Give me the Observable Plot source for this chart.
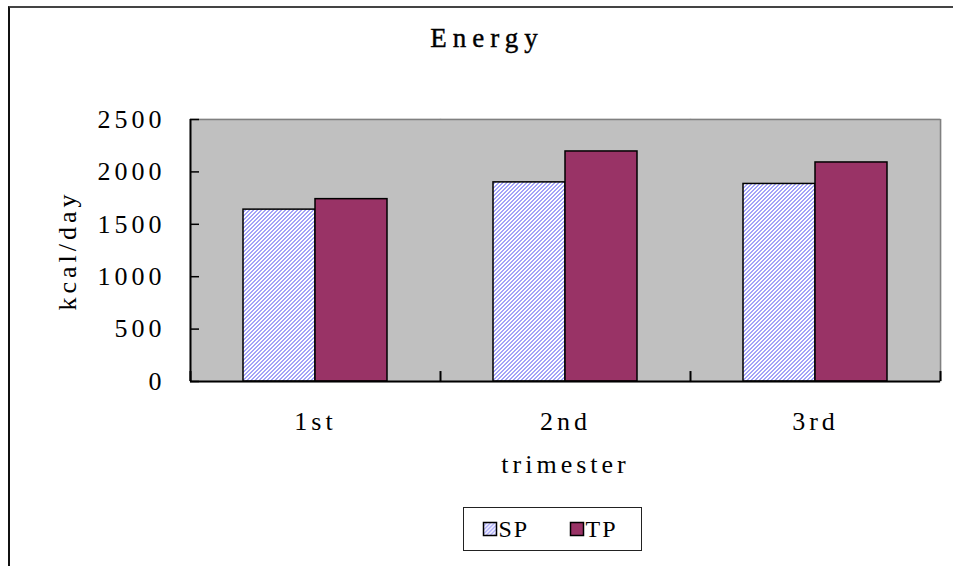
<!DOCTYPE html>
<html><head><meta charset="utf-8">
<script src="https://cdn.jsdelivr.net/npm/d3@7"></script>
<script src="https://cdn.jsdelivr.net/npm/@observablehq/plot@0.6"></script>
<style>
html,body{margin:0;padding:0;background:#fff;}
#wrap{position:relative;width:953px;height:566px;overflow:hidden;}
#wrap > svg{position:absolute;left:0;top:0;}
#border{position:absolute;left:8px;top:6px;width:1000px;height:1000px;border-left:2px solid #111;border-top:2px solid #444;box-sizing:border-box;z-index:5;}
svg.chart text{letter-spacing:4px;font-family:'Liberation Serif';}
#overlay text{font-family:'Liberation Serif';}
</style>
</head><body>
<div id="wrap">
<svg width="0" height="0" style="position:absolute">
  <defs>
    <pattern id="hatch" patternUnits="userSpaceOnUse" width="4" height="4">
      <rect width="4" height="4" fill="#ffffff"/>
      <g fill="#a3a3f8" shape-rendering="crispEdges">
        <rect x="2" y="0" width="2" height="1"/>
        <rect x="1" y="1" width="2" height="1"/>
        <rect x="0" y="2" width="2" height="1"/>
        <rect x="0" y="3" width="1" height="1"/>
        <rect x="3" y="3" width="1" height="1"/>
      </g>
    </pattern>
  </defs>
</svg>
</div>
<script>
const trimesters = ["1st", "2nd", "3rd"];
const series = ["SP", "TP"];
const spValues = [1640, 1900, 1885];
const tpValues = [1740, 2195, 2090];
const yTicks = [0, 500, 1000, 1500, 2000, 2500];
const colors = {SP: "url(#hatch)", TP: "#993366"};
const titleText = "Energy";
const yLabel = "kcal/day";
const xLabel = "trimester";

const data = trimesters.flatMap((t, i) => [
  {trimester: t, series: "SP", value: spValues[i]},
  {trimester: t, series: "TP", value: tpValues[i]}
]);
const firstT = [trimesters[0]];
const lastT = [trimesters[trimesters.length - 1]];

const chart = Plot.plot({
  width: 953,
  height: 566,
  marginLeft: 190,
  marginRight: 13,
  marginTop: 119,
  marginBottom: 185,
  className: "chart",
  style: {fontSize: "26px", background: "transparent", color: "black"},
  fx: {domain: trimesters, padding: 0},
  x: {domain: series, paddingInner: 0, paddingOuter: 0.736, axis: null},
  y: {domain: [0, 2500]},
  marks: [
    Plot.frame({fill: "#c0c0c0", stroke: "#c0c0c0", strokeWidth: 1.5}),
    Plot.ruleY([2500], {stroke: "#808080", strokeWidth: 1.5}),
    Plot.ruleX(lastT, {fx: d => d, x: null, y1: 0, y2: 2500, dx: 125, stroke: "#808080", strokeWidth: 1.5}),
    Plot.barY(data.filter(d => d.series === "SP"), {fx: "trimester", x: "series", y: "value", fill: colors.SP, stroke: "black", strokeWidth: 1.5}),
    Plot.barY(data.filter(d => d.series === "TP"), {fx: "trimester", x: "series", y: "value", fill: colors.TP, stroke: "black", strokeWidth: 1.5}),
    Plot.ruleX(trimesters, {fx: d => d, x: null, y1: 0, y2: 95, dx: -125, stroke: "black", strokeWidth: 2}),
    Plot.ruleX(lastT, {fx: d => d, x: null, y1: 0, y2: 95, dx: 125, stroke: "black", strokeWidth: 2}),
    Plot.ruleX(firstT, {fx: d => d, x: null, y1: 0, y2: 2500, dx: -125, stroke: "black", strokeWidth: 2}),
    Plot.ruleY([0], {stroke: "black", strokeWidth: 2}),
    Plot.axisY({ticks: yTicks, tickSize: -9, tickFormat: () => "", label: null, stroke: "black", strokeWidth: 1.5}),
    Plot.axisY({ticks: yTicks, tickSize: 0, tickPadding: 25, tickFormat: d => String(d), label: yLabel, labelArrow: false, labelAnchor: "center", labelOffset: 133}),
    Plot.axisFx({anchor: "bottom", tickSize: 0, tickPadding: 30, label: xLabel, labelArrow: false, labelAnchor: "center", labelOffset: 91})
  ]
});
const wrap = document.getElementById("wrap");
wrap.appendChild(chart);

const border = document.createElement("div");
border.id = "border";
wrap.appendChild(border);

// overlay title and legend
const ov = d3.select(wrap).append("svg").attr("id", "overlay").attr("width", 953).attr("height", 566).style("z-index", 6);
ov.append("text").attr("x", 487).attr("y", 47).attr("text-anchor", "middle")
  .attr("font-size", 27).attr("letter-spacing", "6px").attr("stroke", "black").attr("stroke-width", 0.4).text(titleText);
ov.append("rect").attr("x", 463.5).attr("y", 507.5).attr("width", 178).attr("height", 43).attr("fill", "white").attr("stroke", "#222").attr("stroke-width", 1);
const lg = ov.selectAll("g.item").data(series).join("g").attr("class", "item")
  .attr("transform", (d, i) => `translate(${483.5 + i * 87},522.5)`);
lg.append("rect").attr("width", 13).attr("height", 13).attr("fill", d => colors[d]).attr("stroke", "black").attr("stroke-width", 1.5);
lg.append("text").attr("x", 15).attr("y", 14.5).attr("font-size", 24).attr("letter-spacing", "2px").text(d => d);
</script>
</body></html>
